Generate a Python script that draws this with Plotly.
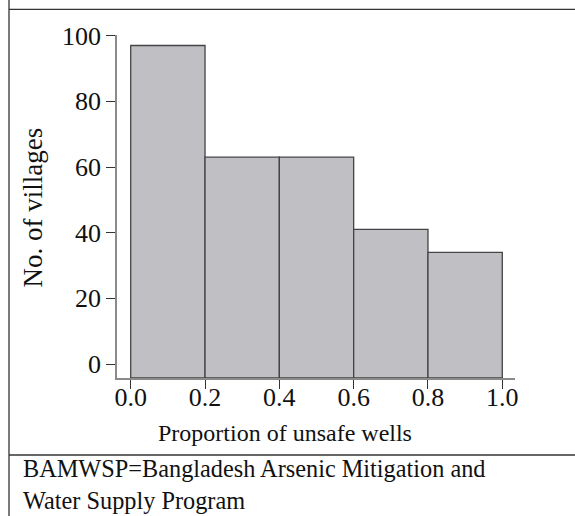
import plotly.graph_objects as go

# Data
bin_left = [0.0, 0.2, 0.4, 0.6, 0.8]
bin_width = 0.2
counts = [97, 63, 63, 41, 34]
x_ticks = [0.0, 0.2, 0.4, 0.6, 0.8, 1.0]
x_tick_labels = ["0.0", "0.2", "0.4", "0.6", "0.8", "1.0"]
y_ticks = [0, 20, 40, 60, 80, 100]
y_tick_labels = ["0", "20", "40", "60", "80", "100"]

W, H = 575, 516
L, R, T, B = 117, 60, 35, 138
y_min, y_max = -4.25, 100.2
x_min, x_max = -0.0369, 1.0342

FONT = "Liberation Serif, Times New Roman, serif"

centers = [b + bin_width / 2 for b in bin_left]
fig = go.Figure()
fig.add_trace(go.Bar(
    x=centers,
    y=[c - y_min for c in counts],
    base=[y_min] * len(counts),
    width=[bin_width] * len(counts),
    marker=dict(color="#c0bfc4", line=dict(color="#444444", width=1.3)),
    customdata=counts,
    hovertemplate="%{customdata}<extra></extra>",
))

def px_x(x):
    return (x - L) / (W - L - R)

def px_y(y):
    return (H - B - y) / (H - T - B)

fig.update_layout(
    width=W, height=H,
    margin=dict(l=L, r=R, t=T, b=B, pad=0),
    paper_bgcolor="white", plot_bgcolor="white",
    showlegend=False,
    font=dict(family=FONT, size=24, color="#111111"),
    xaxis=dict(
        range=[x_min, x_max], tickvals=x_ticks, ticktext=x_tick_labels,
        showgrid=False, zeroline=False, showline=True, linecolor="#8a8a8a", linewidth=1.5,
        ticks="outside", ticklen=9, tickcolor="#333333", tickwidth=1,
        ticklabelstandoff=-14,
        tickfont=dict(family=FONT, size=26, color="#111111"),
    ),
    yaxis=dict(
        range=[y_min, y_max], tickvals=y_ticks, ticktext=y_tick_labels,
        showgrid=False, zeroline=False, showline=True, linecolor="#8a8a8a", linewidth=1.5,
        ticks="outside", ticklen=9, tickcolor="#333333", tickwidth=1,
        tickfont=dict(family=FONT, size=26, color="#111111"),
    ),
    annotations=[
        dict(text="Proportion of unsafe wells", xref="paper", yref="paper",
             x=px_x(284.5), y=px_y(433), xanchor="center", yanchor="middle",
             showarrow=False, font=dict(family=FONT, size=24, color="#111111")),
        dict(text="No. of villages", xref="paper", yref="paper",
             x=px_x(32), y=px_y(207.5), xanchor="center", yanchor="middle", textangle=-90,
             showarrow=False, font=dict(family=FONT, size=27, color="#111111")),
        dict(text="BAMWSP=Bangladesh Arsenic Mitigation and", xref="paper", yref="paper",
             x=px_x(21), y=px_y(468), xanchor="left", yanchor="middle",
             showarrow=False, font=dict(family=FONT, size=24.3, color="#111111")),
        dict(text="Water Supply Program", xref="paper", yref="paper",
             x=px_x(21), y=px_y(500), xanchor="left", yanchor="middle",
             showarrow=False, font=dict(family=FONT, size=24.3, color="#111111")),
    ],
    shapes=[
        dict(type="line", xref="paper", yref="paper", x0=px_x(9), x1=px_x(9), y0=px_y(0), y1=px_y(H),
             line=dict(color="#333333", width=1.3)),
        dict(type="line", xref="paper", yref="paper", x0=px_x(9), x1=px_x(W), y0=px_y(9.3), y1=px_y(9.3),
             line=dict(color="#333333", width=1.3)),
        dict(type="line", xref="paper", yref="paper", x0=px_x(9), x1=px_x(W), y0=px_y(455), y1=px_y(455),
             line=dict(color="#333333", width=1.3)),
    ],
)

fig.write_html("out.html", config={"displayModeBar": False},
               post_script="document.body.style.margin='0';document.body.style.overflow='hidden';")
